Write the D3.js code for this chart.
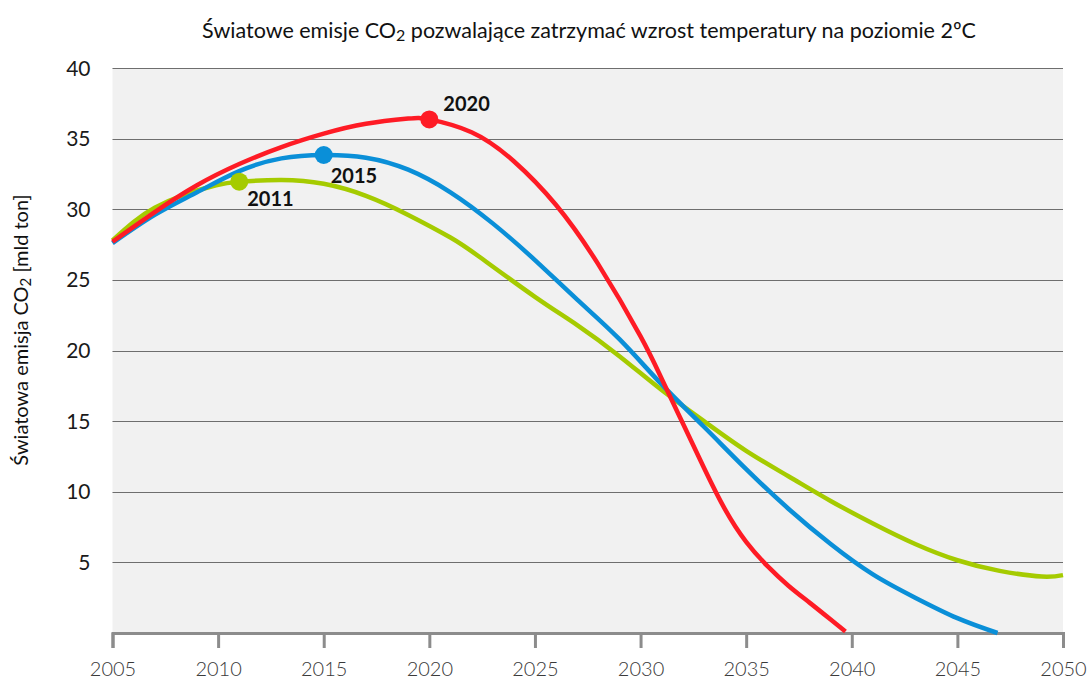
<!DOCTYPE html>
<html>
<head>
<meta charset="utf-8">
<script src="https://cdn.jsdelivr.net/npm/d3@7"></script>
<style>
  body { margin: 0; background: #fff; }
  svg text { font-family: Lato, "Open Sans", sans-serif; }
</style>
</head>
<body>
<svg></svg>
<script>
const margin = { top: 68, right: 26, bottom: 51, left: 112.5 };
const W = 1089, H = 684;
const width = W - margin.left - margin.right;
const height = H - margin.top - margin.bottom;

// series data (year, value in mld ton)
const red_years = [2005, 2007, 2009, 2011, 2013, 2015, 2017, 2019, 2020, 2022, 2024, 2026, 2028, 2030, 2031, 2032, 2033, 2034, 2035, 2036, 2037, 2038, 2039, 2039.7];
const red_values = [27.7, 29.8, 31.7, 33.2, 34.4, 35.35, 36.05, 36.42, 36.36, 35.45, 33.4, 30.3, 26.1, 21.0, 18.0, 14.85, 11.7, 8.75, 6.45, 4.75, 3.35, 2.15, 0.95, 0.1];

const blue_years = [2005, 2007, 2009, 2011, 2013, 2015, 2017, 2019, 2021, 2023, 2025, 2027, 2029, 2031, 2033, 2035, 2037, 2039, 2041, 2043, 2045, 2046.9];
const blue_values = [27.6, 29.6, 31.2, 32.7, 33.6, 33.84, 33.65, 32.8, 31.2, 29.0, 26.4, 23.6, 20.8, 17.6, 14.6, 11.6, 8.8, 6.3, 4.15, 2.5, 1.05, 0];

const green_years = [2005, 2006, 2007, 2008.35, 2009.9, 2011, 2013, 2015, 2017, 2019, 2021, 2022.4, 2025, 2027, 2029, 2031, 2033, 2035, 2037, 2039, 2041, 2043, 2045, 2047, 2049, 2050];
const green_values = [27.8, 29.1, 30.1, 31.0, 31.7, 31.95, 32.07, 31.8, 30.95, 29.6, 28.0, 26.6, 23.8, 21.8, 19.6, 17.2, 15.0, 12.9, 11.1, 9.35, 7.75, 6.3, 5.15, 4.4, 4.0, 4.1];

// highlighted points
const marker_years = [2011, 2015, 2020];
const marker_values = [31.95, 33.84, 36.36];
const marker_labels = ["2011", "2015", "2020"];

const x_ticks = [2005, 2010, 2015, 2020, 2025, 2030, 2035, 2040, 2045, 2050];
const y_ticks = [5, 10, 15, 20, 25, 30, 35, 40];

const colors = { red: "#fe1b25", blue: "#0a8fd8", green: "#a5cb00" };

const svg = d3.select("svg").attr("width", W).attr("height", H);
const g = svg.append("g").attr("transform", "translate(" + margin.left + "," + margin.top + ")");

const x = d3.scaleLinear().domain([2005, 2050]).range([0, width]);
const y = d3.scaleLinear().domain([0, 40]).range([height, 0]);

g.append("rect")
    .attr("width", width)
    .attr("height", height)
    .attr("fill", "#f1f1f1");

// gridlines
g.selectAll("line.grid")
    .data(y_ticks)
    .enter()
    .append("line")
    .attr("class", "grid")
    .attr("x1", 0)
    .attr("x2", width)
    .attr("y1", d => Math.round(y(d)) + 0.5)
    .attr("y2", d => Math.round(y(d)) + 0.5)
    .attr("stroke", "#6e6e6e")
    .attr("stroke-width", 1);

// y labels
g.selectAll("text.ylab")
    .data(y_ticks)
    .enter()
    .append("text")
    .attr("class", "ylab")
    .attr("x", -22)
    .attr("y", d => y(d))
    .attr("dy", "0.36em")
    .attr("text-anchor", "end")
    .attr("font-size", 21)
    .attr("fill", "#1a1a1a")
    .text(d => d);

// x axis
const x_axis = g.append("g")
    .attr("transform", "translate(0," + height + ")")
    .call(d3.axisBottom(x).tickValues(x_ticks).tickFormat(d3.format("d")).tickSize(15).tickPadding(14));

x_axis.select(".domain").attr("stroke", "#8c8c8c").attr("stroke-width", 3);
x_axis.selectAll(".tick line").attr("stroke", "#8c8c8c").attr("stroke-width", 3);
x_axis.selectAll(".tick text")
    .attr("font-size", 20)
    .attr("font-weight", 300)
    .attr("fill", "#3a3a3a")
    .style("font-family", "Lato, sans-serif");

const line = d3.line()
    .x(d => x(d[0]))
    .y(d => y(d[1]))
    .curve(d3.curveNatural);

const series = [
    { name: "green", years: green_years, values: green_values },
    { name: "blue", years: blue_years, values: blue_values },
    { name: "red", years: red_years, values: red_values }
];

series.forEach(s => {
    g.append("path")
        .datum(d3.zip(s.years, s.values))
        .attr("d", line)
        .attr("fill", "none")
        .attr("stroke", colors[s.name])
        .attr("stroke-width", 4.5);
});

const marker_colors = [colors.green, colors.blue, colors.red];
const label_offsets = [[8, 24], [7, 28], [14, -8]];

marker_years.forEach((yr, i) => {
    g.append("circle")
        .attr("cx", x(yr))
        .attr("cy", y(marker_values[i]))
        .attr("r", 9)
        .attr("fill", marker_colors[i]);
    g.append("text")
        .attr("x", x(yr) + label_offsets[i][0])
        .attr("y", y(marker_values[i]) + label_offsets[i][1])
        .attr("font-size", 20)
        .attr("font-weight", "bold")
        .attr("fill", "#111")
        .text(marker_labels[i]);
});

// title
const title = svg.append("text")
    .attr("x", 589)
    .attr("y", 38)
    .attr("text-anchor", "middle")
    .attr("font-size", 21.5)
    .attr("fill", "#111");
title.append("tspan").text("Światowe emisje CO");
title.append("tspan").attr("font-size", 16).attr("dy", 3).text("2");
title.append("tspan").attr("dy", -3).text(" pozwalające zatrzymać wzrost temperatury na poziomie 2ºC");

// y axis title
const ytitle = svg.append("text")
    .attr("transform", "translate(28," + 330 + ") rotate(-90)")
    .attr("text-anchor", "middle")
    .attr("font-size", 20)
    .attr("fill", "#111");
ytitle.append("tspan").text("Światowa emisja CO");
ytitle.append("tspan").attr("font-size", 15).attr("dy", 3).text("2");
ytitle.append("tspan").attr("dy", -3).text(" [mld ton]");
</script>
</body>
</html>
